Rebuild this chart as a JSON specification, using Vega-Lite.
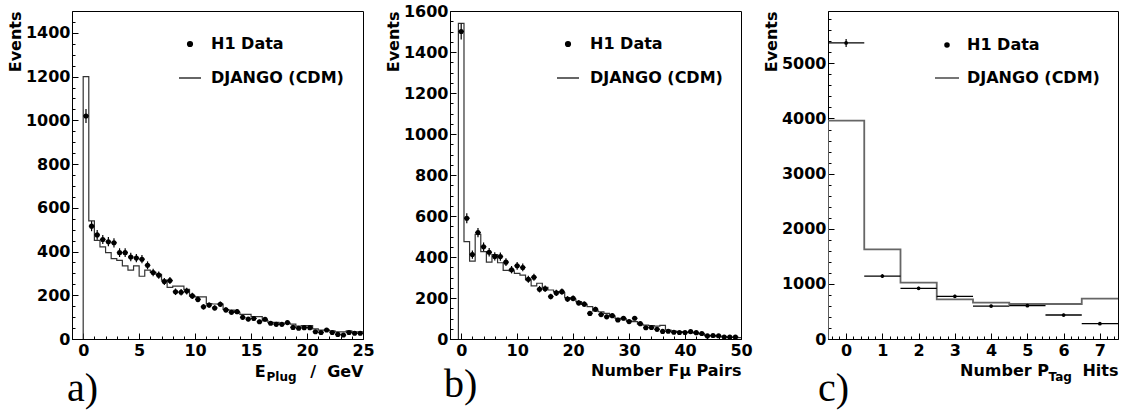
{
  "$schema": "https://vega.github.io/schema/vega-lite/v6.json",
  "padding": {"left": 6, "top": 2, "right": 0, "bottom": 0},
  "spacing": 9,
  "datasets": {
    "a_data": [
      {"x":0.25,"events":1020,"err":32},{"x":0.75,"events":516,"err":23},{"x":1.25,"events":476,"err":22},{"x":1.75,"events":455,"err":21},
      {"x":2.25,"events":445,"err":21},{"x":2.75,"events":440,"err":21},{"x":3.25,"events":395,"err":20},{"x":3.75,"events":395,"err":20},
      {"x":4.25,"events":375,"err":19},{"x":4.75,"events":370,"err":19},{"x":5.25,"events":365,"err":19},{"x":5.75,"events":337,"err":18},
      {"x":6.25,"events":304,"err":17},{"x":6.75,"events":292,"err":17},{"x":7.25,"events":263,"err":16},{"x":7.75,"events":267,"err":16},
      {"x":8.25,"events":216,"err":15},{"x":8.75,"events":214,"err":15},{"x":9.25,"events":219,"err":15},{"x":9.75,"events":197,"err":14},
      {"x":10.25,"events":181,"err":13},{"x":10.75,"events":147,"err":12},{"x":11.25,"events":155,"err":12},{"x":11.75,"events":142,"err":12},
      {"x":12.25,"events":159,"err":13},{"x":12.75,"events":133,"err":12},{"x":13.25,"events":122,"err":11},{"x":13.75,"events":125,"err":11},
      {"x":14.25,"events":99,"err":10},{"x":14.75,"events":91,"err":10},{"x":15.25,"events":94,"err":10},{"x":15.75,"events":79,"err":9},
      {"x":16.25,"events":90,"err":9},{"x":16.75,"events":72,"err":8},{"x":17.25,"events":67,"err":8},{"x":17.75,"events":67,"err":8},
      {"x":18.25,"events":75,"err":9},{"x":18.75,"events":53,"err":7},{"x":19.25,"events":49,"err":7},{"x":19.75,"events":52,"err":7},
      {"x":20.25,"events":52,"err":7},{"x":20.75,"events":33,"err":6},{"x":21.25,"events":30,"err":5},{"x":21.75,"events":41,"err":6},
      {"x":22.25,"events":30,"err":5},{"x":22.75,"events":21,"err":5},{"x":23.25,"events":18,"err":4},{"x":23.75,"events":30,"err":5},
      {"x":24.25,"events":26,"err":5},{"x":24.75,"events":26,"err":5}
    ],
    "a_mc": [
      {"edge":0,"events":0},{"edge":0.5,"events":1200},{"edge":1.0,"events":540},{"edge":1.5,"events":451},{"edge":2.0,"events":421},
      {"edge":2.5,"events":395},{"edge":3.0,"events":368},{"edge":3.5,"events":360},{"edge":4.0,"events":334},{"edge":4.5,"events":315},
      {"edge":5.0,"events":334},{"edge":5.5,"events":287},{"edge":6.0,"events":315},{"edge":6.5,"events":305},{"edge":7.0,"events":296},
      {"edge":7.5,"events":269},{"edge":8.0,"events":236},{"edge":8.5,"events":242},{"edge":9.0,"events":242},{"edge":9.5,"events":227},
      {"edge":10.0,"events":196},{"edge":10.5,"events":193},{"edge":11.0,"events":193},{"edge":11.5,"events":162},{"edge":12.0,"events":160},
      {"edge":12.5,"events":160},{"edge":13.0,"events":135},{"edge":13.5,"events":132},{"edge":14.0,"events":122},{"edge":14.5,"events":113},
      {"edge":15.0,"events":113},{"edge":15.5,"events":102},{"edge":16.0,"events":102},{"edge":16.5,"events":84},{"edge":17.0,"events":76},
      {"edge":17.5,"events":76},{"edge":18.0,"events":72},{"edge":18.5,"events":72},{"edge":19.0,"events":68},{"edge":19.5,"events":59},
      {"edge":20.0,"events":61},{"edge":20.5,"events":61},{"edge":21.0,"events":46},{"edge":21.5,"events":41},{"edge":22.0,"events":41},
      {"edge":22.5,"events":37},{"edge":23.0,"events":33},{"edge":23.5,"events":33},{"edge":24.0,"events":37},{"edge":24.5,"events":33},
      {"edge":25.0,"events":33}
    ],
    "b_data": [
      {"x":0,"events":1500,"err":39},{"x":1,"events":589,"err":24},{"x":2,"events":412,"err":20},{"x":3,"events":519,"err":23},
      {"x":4,"events":450,"err":21},{"x":5,"events":423,"err":21},{"x":6,"events":403,"err":20},{"x":7,"events":402,"err":20},
      {"x":8,"events":375,"err":19},{"x":9,"events":338,"err":18},{"x":10,"events":357,"err":19},{"x":11,"events":349,"err":19},
      {"x":12,"events":291,"err":17},{"x":13,"events":301,"err":17},{"x":14,"events":243,"err":16},{"x":15,"events":245,"err":16},
      {"x":16,"events":207,"err":14},{"x":17,"events":225,"err":15},{"x":18,"events":231,"err":15},{"x":19,"events":195,"err":14},
      {"x":20,"events":198,"err":14},{"x":21,"events":176,"err":13},{"x":22,"events":170,"err":13},{"x":23,"events":125,"err":11},
      {"x":24,"events":145,"err":12},{"x":25,"events":119,"err":11},{"x":26,"events":108,"err":10},{"x":27,"events":114,"err":11},
      {"x":28,"events":93,"err":10},{"x":29,"events":101,"err":10},{"x":30,"events":85,"err":9},{"x":31,"events":101,"err":10},
      {"x":32,"events":75,"err":9},{"x":33,"events":55,"err":7},{"x":34,"events":56,"err":7},{"x":35,"events":47,"err":7},
      {"x":36,"events":37,"err":6},{"x":37,"events":38,"err":6},{"x":38,"events":33,"err":6},{"x":39,"events":32,"err":6},
      {"x":40,"events":32,"err":6},{"x":41,"events":36,"err":6},{"x":42,"events":31,"err":6},{"x":43,"events":27,"err":5},
      {"x":44,"events":15,"err":4},{"x":45,"events":17,"err":4},{"x":46,"events":16,"err":4},{"x":47,"events":10,"err":3},
      {"x":48,"events":9,"err":3},{"x":49,"events":9,"err":3}
    ],
    "b_mc": [
      {"edge":-0.5,"events":0},{"edge":0.5,"events":1540},{"edge":1.5,"events":475},{"edge":2.5,"events":380},{"edge":3.5,"events":511},
      {"edge":4.5,"events":426},{"edge":5.5,"events":375},{"edge":6.5,"events":412},{"edge":7.5,"events":372},{"edge":8.5,"events":335},
      {"edge":9.5,"events":333},{"edge":10.5,"events":320},{"edge":11.5,"events":312},{"edge":12.5,"events":288},{"edge":13.5,"events":259},
      {"edge":14.5,"events":272},{"edge":15.5,"events":252},{"edge":16.5,"events":239},{"edge":17.5,"events":231},{"edge":18.5,"events":226},
      {"edge":19.5,"events":202},{"edge":20.5,"events":195},{"edge":21.5,"events":182},{"edge":22.5,"events":169},{"edge":23.5,"events":158},
      {"edge":24.5,"events":137},{"edge":25.5,"events":133},{"edge":26.5,"events":125},{"edge":27.5,"events":112},{"edge":28.5,"events":101},
      {"edge":29.5,"events":98},{"edge":30.5,"events":89},{"edge":31.5,"events":85},{"edge":32.5,"events":72},{"edge":33.5,"events":68},
      {"edge":34.5,"events":65},{"edge":35.5,"events":63},{"edge":36.5,"events":66},{"edge":37.5,"events":44},{"edge":38.5,"events":39},
      {"edge":39.5,"events":36},{"edge":40.5,"events":33},{"edge":41.5,"events":31},{"edge":42.5,"events":28},{"edge":43.5,"events":24},
      {"edge":44.5,"events":16},{"edge":45.5,"events":15},{"edge":46.5,"events":11},{"edge":47.5,"events":11},{"edge":48.5,"events":8},
      {"edge":49.5,"events":8},{"edge":50.5,"events":7}
    ],
    "c_data": [
      {"x":0,"events":5370,"err":73},{"x":1,"events":1142,"err":34},{"x":2,"events":919,"err":30},{"x":3,"events":774,"err":28},
      {"x":4,"events":598,"err":24},{"x":5,"events":604,"err":25},{"x":6,"events":435,"err":21},{"x":7,"events":278,"err":17}
    ],
    "c_mc": [
      {"edge":-0.5,"events":0},{"edge":0.5,"events":3960},{"edge":1.5,"events":1626},{"edge":2.5,"events":1022},{"edge":3.5,"events":719},
      {"edge":4.5,"events":659},{"edge":5.5,"events":635},{"edge":6.5,"events":635},{"edge":7.5,"events":731}
    ]
  },
  "hconcat": [
    {
      "width": 291, "height": 328,
      "title": {"text": "a)", "orient": "bottom", "anchor": "start", "frame": "group", "font": "Liberation Serif", "fontSize": 40, "fontWeight": "normal", "color": "black", "offset": -13, "dx": -5},
      "resolve": {"axis": {"x": "independent", "y": "independent"}},
      "layer": [
        {
          "data": {"name": "a_mc"},
          "mark": {"type": "line", "interpolate": "step-before", "strokeWidth": 1.2, "clip": true},
          "encoding": {
            "x": {"field": "edge", "type": "quantitative", "scale": {"domain": [-1, 25], "nice": false, "zero": false},
                  "axis": {"orient": "bottom", "format": "d", "values": [0,5,10,15,20,25], "tickSize": -6, "labelPadding": 9, "title": "E\u00a0\u00a0\u00a0\u00a0\u00a0\u00a0\u00a0\u00a0/\u00a0\u00a0GeV", "titleAlign": "right", "titleX": 291, "titleY": 37, "titleBaseline": "alphabetic"}},
            "y": {"field": "events", "type": "quantitative", "scale": {"domain": [0, 1500], "nice": false},
                  "axis": {"orient": "left", "format": "d", "values": [0,200,400,600,800,1000,1200,1400], "tickSize": -6, "labelPadding": 8, "title": "Events", "titleAnchor": "end", "titlePadding": 2}},
            "color": {"datum": "DJANGO (CDM)", "scale": {"domain": ["H1 Data", "DJANGO (CDM)"], "range": ["black", "#333333"]},
                      "legend": {"orient": "none", "legendX": 106, "legendY": 21, "title": null, "symbolSize": 484, "labelOffset": 9, "rowPadding": 14, "padding": 0,
                                 "encode": {"symbols": {"update": {"shape": {"signal": "datum.value === 'H1 Data' ? 'circle' : 'stroke'"}, "size": {"signal": "datum.value === 'H1 Data' ? 22 : 484"}, "fill": {"signal": "datum.value === 'H1 Data' ? 'black' : 'transparent'"}, "stroke": {"signal": "datum.value === 'H1 Data' ? 'transparent' : '#666666'"}, "strokeWidth": {"value": 1.5}, "opacity": {"value": 1}}}}}}
          }
        },
        {
          "data": {"name": "a_data"},
          "mark": {"type": "errorbar", "color": "black", "thickness": 1.2},
          "encoding": {
            "x": {"field": "x", "type": "quantitative", "axis": null},
            "y": {"field": "events", "type": "quantitative", "axis": null},
            "yError": {"field": "err"}
          }
        },
        {
          "data": {"name": "a_data"},
          "mark": {"type": "tick", "orient": "horizontal", "size": 5.6, "thickness": 1.2, "color": "black", "opacity": 1},
          "encoding": {
            "x": {"field": "x", "type": "quantitative", "axis": null},
            "y": {"field": "events", "type": "quantitative", "axis": null}
          }
        },
        {
          "data": {"name": "a_data"},
          "mark": {"type": "point", "filled": true, "size": 26, "opacity": 1},
          "encoding": {
            "x": {"field": "x", "type": "quantitative",
                  "axis": {"orient": "bottom", "values": [-1,0,1,2,3,4,5,6,7,8,9,10,11,12,13,14,15,16,17,18,19,20,21,22,23,24,25], "tickSize": -3, "labels": false, "domain": false, "title": "Plug", "titleFontSize": 12, "titleX": 194, "titleY": 41, "titleAlign": "left", "titleBaseline": "alphabetic"}},
            "y": {"field": "events", "type": "quantitative",
                  "axis": {"orient": "left", "values": [0,50,100,150,200,250,300,350,400,450,500,550,600,650,700,750,800,850,900,950,1000,1050,1100,1150,1200,1250,1300,1350,1400,1450], "tickSize": -3, "labels": false, "domain": false, "title": null}},
            "color": {"datum": "H1 Data"}
          }
        }
      ]
    },
    {
      "width": 291, "height": 328,
      "title": {"text": "b)", "orient": "bottom", "anchor": "start", "frame": "group", "font": "Liberation Serif", "fontSize": 40, "fontWeight": "normal", "color": "black", "offset": -13, "dx": -6},
      "resolve": {"axis": {"x": "independent", "y": "independent"}},
      "layer": [
        {
          "data": {"name": "b_mc"},
          "mark": {"type": "line", "interpolate": "step-before", "strokeWidth": 1.2, "clip": true},
          "encoding": {
            "x": {"field": "edge", "type": "quantitative", "scale": {"domain": [-2, 50], "nice": false, "zero": false},
                  "axis": {"orient": "bottom", "format": "d", "values": [0,10,20,30,40,50], "tickSize": -6, "labelPadding": 9, "title": "Number F\u03bc Pairs", "titleAlign": "right", "titleX": 291, "titleY": 36, "titleBaseline": "alphabetic"}},
            "y": {"field": "events", "type": "quantitative", "scale": {"domain": [0, 1600], "nice": false},
                  "axis": {"orient": "left", "format": "d", "values": [0,200,400,600,800,1000,1200,1400,1600], "tickSize": -6, "labelPadding": 8, "title": "Events", "titleAnchor": "end", "titlePadding": 2}},
            "color": {"datum": "DJANGO (CDM)", "scale": {"domain": ["H1 Data", "DJANGO (CDM)"], "range": ["black", "#333333"]},
                      "legend": {"orient": "none", "legendX": 106, "legendY": 21, "title": null, "symbolSize": 484, "labelOffset": 10, "rowPadding": 14, "padding": 0,
                                 "encode": {"symbols": {"update": {"shape": {"signal": "datum.value === 'H1 Data' ? 'circle' : 'stroke'"}, "size": {"signal": "datum.value === 'H1 Data' ? 22 : 484"}, "fill": {"signal": "datum.value === 'H1 Data' ? 'black' : 'transparent'"}, "stroke": {"signal": "datum.value === 'H1 Data' ? 'transparent' : '#666666'"}, "strokeWidth": {"value": 1.5}, "opacity": {"value": 1}}}}}}
          }
        },
        {
          "data": {"name": "b_data"},
          "mark": {"type": "errorbar", "color": "black", "thickness": 1.2},
          "encoding": {
            "x": {"field": "x", "type": "quantitative", "axis": null},
            "y": {"field": "events", "type": "quantitative", "axis": null},
            "yError": {"field": "err"}
          }
        },
        {
          "data": {"name": "b_data"},
          "mark": {"type": "tick", "orient": "horizontal", "size": 5.6, "thickness": 1.2, "color": "black", "opacity": 1},
          "encoding": {
            "x": {"field": "x", "type": "quantitative", "axis": null},
            "y": {"field": "events", "type": "quantitative", "axis": null}
          }
        },
        {
          "data": {"name": "b_data"},
          "mark": {"type": "point", "filled": true, "size": 26, "opacity": 1},
          "encoding": {
            "x": {"field": "x", "type": "quantitative",
                  "axis": {"orient": "bottom", "values": [-2,0,2,4,6,8,10,12,14,16,18,20,22,24,26,28,30,32,34,36,38,40,42,44,46,48,50], "tickSize": -3, "labels": false, "domain": false, "title": null}},
            "y": {"field": "events", "type": "quantitative",
                  "axis": {"orient": "left", "values": [0,50,100,150,200,250,300,350,400,450,500,550,600,650,700,750,800,850,900,950,1000,1050,1100,1150,1200,1250,1300,1350,1400,1450,1500,1550], "tickSize": -3, "labels": false, "domain": false, "title": null}},
            "color": {"datum": "H1 Data"}
          }
        }
      ]
    },
    {
      "width": 290, "height": 328,
      "title": {"text": "c)", "orient": "bottom", "anchor": "start", "frame": "group", "font": "Liberation Serif", "fontSize": 40, "fontWeight": "normal", "color": "black", "offset": -13, "dx": -10},
      "resolve": {"axis": {"x": "independent", "y": "independent"}},
      "layer": [
        {
          "data": {"name": "c_mc"},
          "mark": {"type": "line", "interpolate": "step-before", "strokeWidth": 1.8, "clip": true},
          "encoding": {
            "x": {"field": "edge", "type": "quantitative", "scale": {"domain": [-0.5, 7.5], "nice": false, "zero": false},
                  "axis": {"orient": "bottom", "format": "d", "values": [0,1,2,3,4,5,6,7], "tickSize": -6, "labelPadding": 9, "title": "Number P\u00a0\u00a0\u00a0\u00a0\u00a0\u00a0Hits", "titleAlign": "right", "titleX": 290, "titleY": 36, "titleBaseline": "alphabetic"}},
            "y": {"field": "events", "type": "quantitative", "scale": {"domain": [0, 5950], "nice": false},
                  "axis": {"orient": "left", "format": "d", "values": [0,1000,2000,3000,4000,5000], "tickSize": -6, "labelPadding": 8, "title": "Events", "titleAnchor": "end", "titlePadding": 2}},
            "color": {"datum": "DJANGO (CDM)", "scale": {"domain": ["H1 Data", "DJANGO (CDM)"], "range": ["black", "#666666"]},
                      "legend": {"orient": "none", "legendX": 106, "legendY": 21, "title": null, "symbolSize": 576, "labelOffset": 7, "rowPadding": 12, "padding": 0,
                                 "encode": {"symbols": {"update": {"shape": {"signal": "datum.value === 'H1 Data' ? 'circle' : 'stroke'"}, "size": {"signal": "datum.value === 'H1 Data' ? 14 : 576"}, "fill": {"signal": "datum.value === 'H1 Data' ? 'black' : 'transparent'"}, "stroke": {"signal": "datum.value === 'H1 Data' ? 'transparent' : '#666666'"}, "strokeWidth": {"value": 1.8}, "opacity": {"value": 1}}}}}}
          }
        },
        {
          "data": {"name": "c_data"},
          "mark": {"type": "errorbar", "color": "black", "thickness": 1.2},
          "encoding": {
            "x": {"field": "x", "type": "quantitative", "axis": null},
            "y": {"field": "events", "type": "quantitative", "axis": null},
            "yError": {"field": "err"}
          }
        },
        {
          "data": {"name": "c_data"},
          "mark": {"type": "tick", "orient": "horizontal", "size": 36.3, "thickness": 1.3, "color": "black", "opacity": 1},
          "encoding": {
            "x": {"field": "x", "type": "quantitative", "axis": null},
            "y": {"field": "events", "type": "quantitative", "axis": null}
          }
        },
        {
          "data": {"name": "c_data"},
          "mark": {"type": "point", "filled": true, "size": 14, "opacity": 1},
          "encoding": {
            "x": {"field": "x", "type": "quantitative",
                  "axis": {"orient": "bottom", "values": [-0.4,-0.2,0,0.2,0.4,0.6,0.8,1,1.2,1.4,1.6,1.8,2,2.2,2.4,2.6,2.8,3,3.2,3.4,3.6,3.8,4,4.2,4.4,4.6,4.8,5,5.2,5.4,5.6,5.8,6,6.2,6.4,6.6,6.8,7,7.2,7.4], "tickSize": -3, "labels": false, "domain": false, "title": "Tag", "titleFontSize": 12, "titleX": 220, "titleY": 41, "titleAlign": "left", "titleBaseline": "alphabetic"}},
            "y": {"field": "events", "type": "quantitative",
                  "axis": {"orient": "left", "values": [0,200,400,600,800,1000,1200,1400,1600,1800,2000,2200,2400,2600,2800,3000,3200,3400,3600,3800,4000,4200,4400,4600,4800,5000,5200,5400,5600,5800], "tickSize": -3, "labels": false, "domain": false, "title": null}},
            "color": {"datum": "H1 Data"}
          }
        }
      ]
    }
  ],
  "resolve": {"scale": {"color": "independent"}, "legend": {"color": "independent"}},
  "config": {
    "view": {"stroke": "black", "strokeWidth": 1},
    "axis": {"grid": false, "labelFont": "DejaVu Sans", "labelFontWeight": "bold", "labelFontSize": 16, "labelColor": "black",
             "titleFont": "DejaVu Sans", "titleFontWeight": "bold", "titleFontSize": 16, "titleColor": "black",
             "domainColor": "black", "tickColor": "black", "tickWidth": 1, "labelFlush": false, "labelOverlap": false},
    "legend": {"labelFont": "DejaVu Sans", "labelFontWeight": "bold", "labelFontSize": 16, "labelColor": "black"}
  }
}
